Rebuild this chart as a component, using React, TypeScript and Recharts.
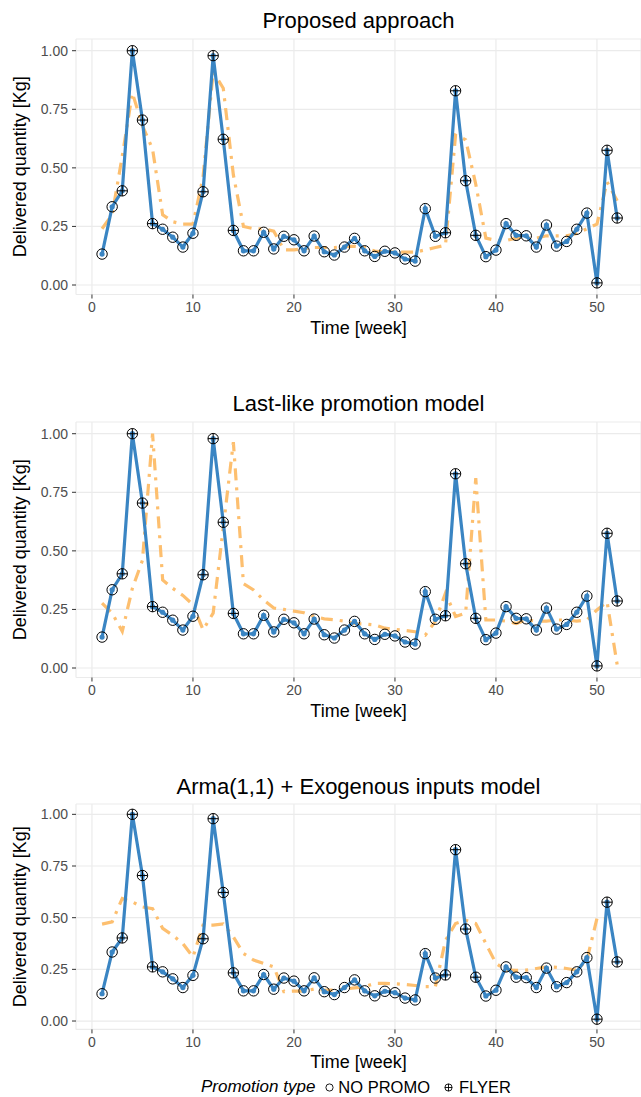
import { LineChart, Line, XAxis, YAxis, CartesianGrid, Label } from 'recharts';

const weeks = [1, 2, 3, 4, 5, 6, 7, 8, 9, 10, 11, 12, 13, 14, 15, 16, 17, 18, 19, 20, 21, 22, 23, 24, 25, 26,
  27, 28, 29, 30, 31, 32, 33, 34, 35, 36, 37, 38, 39, 40, 41, 42, 43, 44, 45, 46, 47, 48, 49, 50, 51, 52];

// delivered quantity, same in every panel
const actual = [0.132, 0.334, 0.402, 1.0, 0.704, 0.262, 0.238, 0.204, 0.162, 0.221, 0.398, 0.979, 0.622,
  0.233, 0.146, 0.146, 0.225, 0.154, 0.208, 0.193, 0.146, 0.209, 0.142, 0.128, 0.162, 0.199,
  0.146, 0.122, 0.144, 0.137, 0.111, 0.102, 0.326, 0.208, 0.223, 0.829, 0.445, 0.212, 0.121, 0.149,
  0.262, 0.212, 0.21, 0.162, 0.256, 0.166, 0.186, 0.238, 0.307, 0.009, 0.575, 0.286];

// 1 = FLYER, 0 = NO PROMO
const promo = [0, 0, 1, 1, 1, 1, 0, 0, 0, 0, 1, 1, 1, 1, 0, 0, 0, 0, 0, 0, 0, 0, 0, 0, 0, 0,
  0, 0, 0, 0, 0, 0, 0, 0, 1, 1, 1, 1, 0, 0, 0, 0, 0, 0, 0, 0, 0, 0, 0, 1, 1, 1];

const proposed = [0.24, 0.3, 0.55, 0.82, 0.68, 0.58, 0.3, 0.27, 0.26, 0.26, 0.46, 0.91, 0.84, 0.47, 0.25,
  0.24, 0.24, 0.23, 0.15, 0.15, 0.155, 0.16, 0.16, 0.16, 0.165, 0.165, 0.16, 0.145, 0.14, 0.14, 0.14,
  0.14, 0.15, 0.16, 0.17, 0.64, 0.62, 0.43, 0.2, 0.19, 0.19, 0.2, 0.2, 0.2, 0.21, 0.21, 0.21, 0.22,
  0.24, 0.26, 0.44, 0.36];

const lastLike = [0.277, 0.234, 0.156, 0.34, 0.46, 1.0, 0.376, 0.34, 0.31, 0.27, 0.163, 0.234, 0.6, 0.964,
  0.36, 0.333, 0.29, 0.256, 0.25, 0.243, 0.236, 0.22, 0.21, 0.206, 0.2, 0.19, 0.188, 0.184, 0.17, 0.165,
  0.16, 0.155, 0.14, 0.2, 0.32, 0.22, 0.235, 0.81, 0.205, 0.205, 0.2, 0.19, 0.205, 0.2, 0.2, 0.205,
  0.205, 0.2, 0.205, 0.248, 0.283, 0.014];

const arma = [0.469, 0.48, 0.593, 0.576, 0.552, 0.544, 0.448, 0.415, 0.375, 0.31, 0.464, 0.464, 0.47,
  0.407, 0.327, 0.295, 0.279, 0.262, 0.142, 0.145, 0.145, 0.155, 0.15, 0.15, 0.155, 0.16, 0.166, 0.182,
  0.182, 0.18, 0.177, 0.172, 0.166, 0.166, 0.39, 0.472, 0.488, 0.472, 0.375, 0.279, 0.246, 0.245, 0.246,
  0.254, 0.262, 0.26, 0.254, 0.246, 0.295, 0.496, 0.496, null];

const xTicks = [0, 10, 20, 30, 40, 50];
const yTicks = [0, 0.25, 0.5, 0.75, 1];

const BLUE = '#3A85C3';
const ORANGE = '#FDBF6F';
const FONT = '"Liberation Sans", Arial, Helvetica, sans-serif';

type PanelProps = {
  title: string,
  forecast: (number | null)[],
  top: number,
  height: number,
  plotTop: number,
  plotBottom: number,
}

const renderDot = (props: any) => {
  const { cx, cy, index } = props;
  if (cx == null || cy == null) return <g key={'d' + index} />;
  const flyer = promo[index] === 1;
  return (
    <g key={'d' + index}>
      <circle cx={cx} cy={cy} r={2.6} fill={BLUE} />
      <circle cx={cx} cy={cy} r={5.2} fill="none" stroke="#000" strokeWidth={1} />
      {flyer && <path d={`M${cx - 5.2},${cy}H${cx + 5.2}M${cx},${cy - 5.2}V${cy + 5.2}`} stroke="#000" strokeWidth={1} />}
    </g>
  );
};

const Panel = ({ title, forecast, top, height, plotTop, plotBottom }: PanelProps) => {
  const data = weeks.map((w, i) => ({ week: w, actual: actual[i], forecast: forecast[i] }));
  return (
    <div style={{ position: 'absolute', left: 0, top: top, width: 641, height: height }}>
      <div style={{ position: 'absolute', left: 76, width: 565, top: 10, textAlign: 'center', fontSize: 22, lineHeight: '22px', color: '#000' }}>
        {title}
      </div>
      <LineChart width={641} height={height} data={data} margin={{ top: plotTop, right: 0, bottom: 0, left: 0 }}>
        <CartesianGrid stroke="#EBEBEB" strokeWidth={1.2} />
        <XAxis dataKey="week" type="number" domain={[-1.58, 54.36]} ticks={xTicks} allowDataOverflow
          height={height - plotBottom} axisLine={false} tickSize={4} tickMargin={4}
          tickLine={{ stroke: '#333' }} tick={{ fill: '#4D4D4D', fontSize: 14, fontFamily: FONT }}>
          <Label content={(p: any) => (
            <text x={p.viewBox.x + p.viewBox.width / 2} y={p.viewBox.y + 39} textAnchor="middle"
              fontSize={18} fontFamily={FONT} fill="#000">Time [week]</text>
          )} />
        </XAxis>
        <YAxis type="number" domain={[-0.0405, 1.05]} ticks={yTicks} allowDataOverflow width={76}
          axisLine={false} tickSize={4} tickMargin={4} tickLine={{ stroke: '#333' }}
          tickFormatter={(v: number) => v.toFixed(2)}
          tick={{ fill: '#4D4D4D', fontSize: 14, fontFamily: FONT }}>
          <Label content={(p: any) => {
            const cy = p.viewBox.y + p.viewBox.height / 2;
            return (
              <text x={20} y={cy} transform={`rotate(-90 20 ${cy})`} textAnchor="middle" dominantBaseline="central"
                fontSize={18} fontFamily={FONT} fill="#000">Delivered quantity [Kg]</text>
            );
          }} />
        </YAxis>
        <Line type="linear" dataKey="forecast" stroke={ORANGE} strokeWidth={3.2} strokeDasharray="12 7 3 7"
          dot={false} activeDot={false} isAnimationActive={false} connectNulls={false} />
        <Line type="linear" dataKey="actual" stroke={BLUE} strokeWidth={3.2} dot={renderDot}
          activeDot={false} isAnimationActive={false} />
      </LineChart>
    </div>
  );
};

const Legend = () => (
  <div style={{ position: 'absolute', left: 201, top: 1077, height: 20, display: 'flex', alignItems: 'center', whiteSpace: 'nowrap' }}>
    <span style={{ fontStyle: 'italic', fontSize: 17 }}>Promotion type</span>
    <svg width={9} height={9} style={{ marginLeft: 10, marginRight: 4 }}>
      <circle cx={4.5} cy={4.5} r={3.6} fill="none" stroke="#000" strokeWidth={0.9} />
    </svg>
    <span style={{ fontSize: 16.5 }}>NO PROMO</span>
    <svg width={9} height={9} style={{ marginLeft: 14, marginRight: 6 }}>
      <circle cx={4.5} cy={4.5} r={3.6} fill="none" stroke="#000" strokeWidth={0.9} />
      <path d="M0.9,4.5H8.1M4.5,0.9V8.1" stroke="#000" strokeWidth={0.9} />
    </svg>
    <span style={{ fontSize: 16.5 }}>FLYER</span>
  </div>
);

export default function App() {
  return (
    <div style={{ position: 'absolute', left: 0, top: 0, width: 641, height: 1097, fontFamily: FONT, background: '#fff', overflow: 'hidden' }}>
      <Panel title="Proposed approach" forecast={proposed} top={0} height={383} plotTop={39} plotBottom={294.5} />
      <Panel title="Last-like promotion model" forecast={lastLike} top={383} height={383} plotTop={39} plotBottom={294.5} />
      <Panel title="Arma(1,1) + Exogenous inputs model" forecast={arma} top={766} height={331} plotTop={38} plotBottom={263.4} />
      <Legend />
    </div>
  );
}
